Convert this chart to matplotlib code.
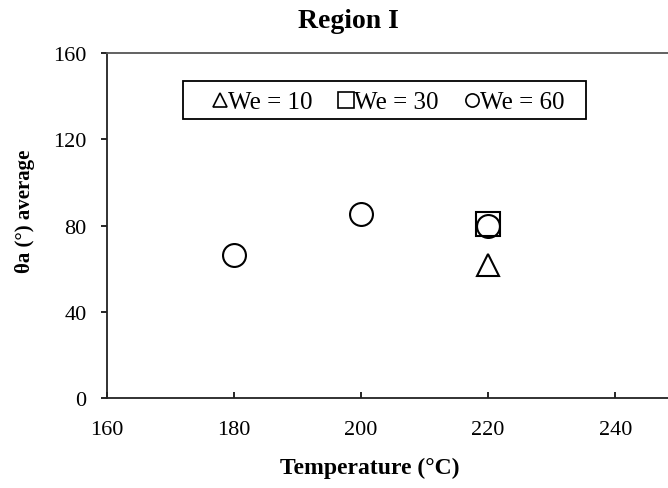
import matplotlib.pyplot as plt
from matplotlib.lines import Line2D
from matplotlib.patches import Rectangle

plt.rcParams['font.family'] = ['Liberation Serif', 'DejaVu Serif']

# data
t_we10 = [220]
a_we10 = [61.7]
t_we30 = [220]
a_we30 = [80.6]
t_we60 = [180, 200, 220]
a_we60 = [66.3, 85.5, 79.9]

fig = plt.figure(figsize=(6.68, 4.89), dpi=100)
ax = fig.add_axes([0.160, 0.184, 0.840, 0.705])

ax.plot(t_we10, a_we10, '^', ms=15.5, mfc='none', mec='black', mew=1.5, clip_on=False)
ax.plot(t_we30, a_we30, 's', ms=17, mfc='none', mec='black', mew=1.5, clip_on=False)
ax.plot(t_we60, a_we60, 'o', ms=16.5, mfc='none', mec='black', mew=1.5, clip_on=False)

ax.set_xlim(160, 248.3)
ax.set_ylim(0, 160)
ax.set_xticks([160, 180, 200, 220, 240])
ax.set_yticks([0, 40, 80, 120, 160])
ax.spines['right'].set_visible(False)
for s in ['left', 'bottom', 'top']:
    ax.spines[s].set_linewidth(1.3)
    ax.spines[s].set_color('#222222')
ax.spines['top'].set_color('#555555')
ax.tick_params(axis='y', direction='out', length=4.5, width=1.2, labelsize=16, pad=10)
ax.tick_params(axis='x', direction='in', length=4.5, width=1.2, labelsize=16, pad=16)

fig.text(348 / 668, 1 - 28 / 489, 'Region I', fontsize=20, fontweight='bold',
         ha='center', va='baseline')
ax.set_xlabel('Temperature (°C)', fontsize=17, fontweight='bold')
ax.xaxis.set_label_coords(0.469, -0.170)
ax.set_ylabel('θa (°) average', fontsize=15, fontweight='bold')
ax.yaxis.set_label_coords(-0.128, 0.545)

# legend box
ax.add_patch(Rectangle((0.1355, 0.8087), 0.7185, 0.1101, transform=ax.transAxes,
                       fill=False, ec='black', lw=1.3, clip_on=False))
handles = [
    Line2D([], [], ls='none', marker='^', ms=9.5, mfc='none', mec='black', mew=1.2),
    Line2D([], [], ls='none', marker='s', ms=12, mfc='none', mec='black', mew=1.2),
    Line2D([], [], ls='none', marker='o', ms=9.5, mfc='none', mec='black', mew=1.2),
]
leg = ax.legend(handles, ['We = 10', 'We = 30', 'We = 60'], ncol=3,
                loc='center', bbox_to_anchor=(0.5027, 0.8580),
                fontsize=18, frameon=False,
                handlelength=0.55, handletextpad=0.05, columnspacing=1.05,
                borderpad=0, borderaxespad=0)

fig.savefig('out.png', dpi=100)
